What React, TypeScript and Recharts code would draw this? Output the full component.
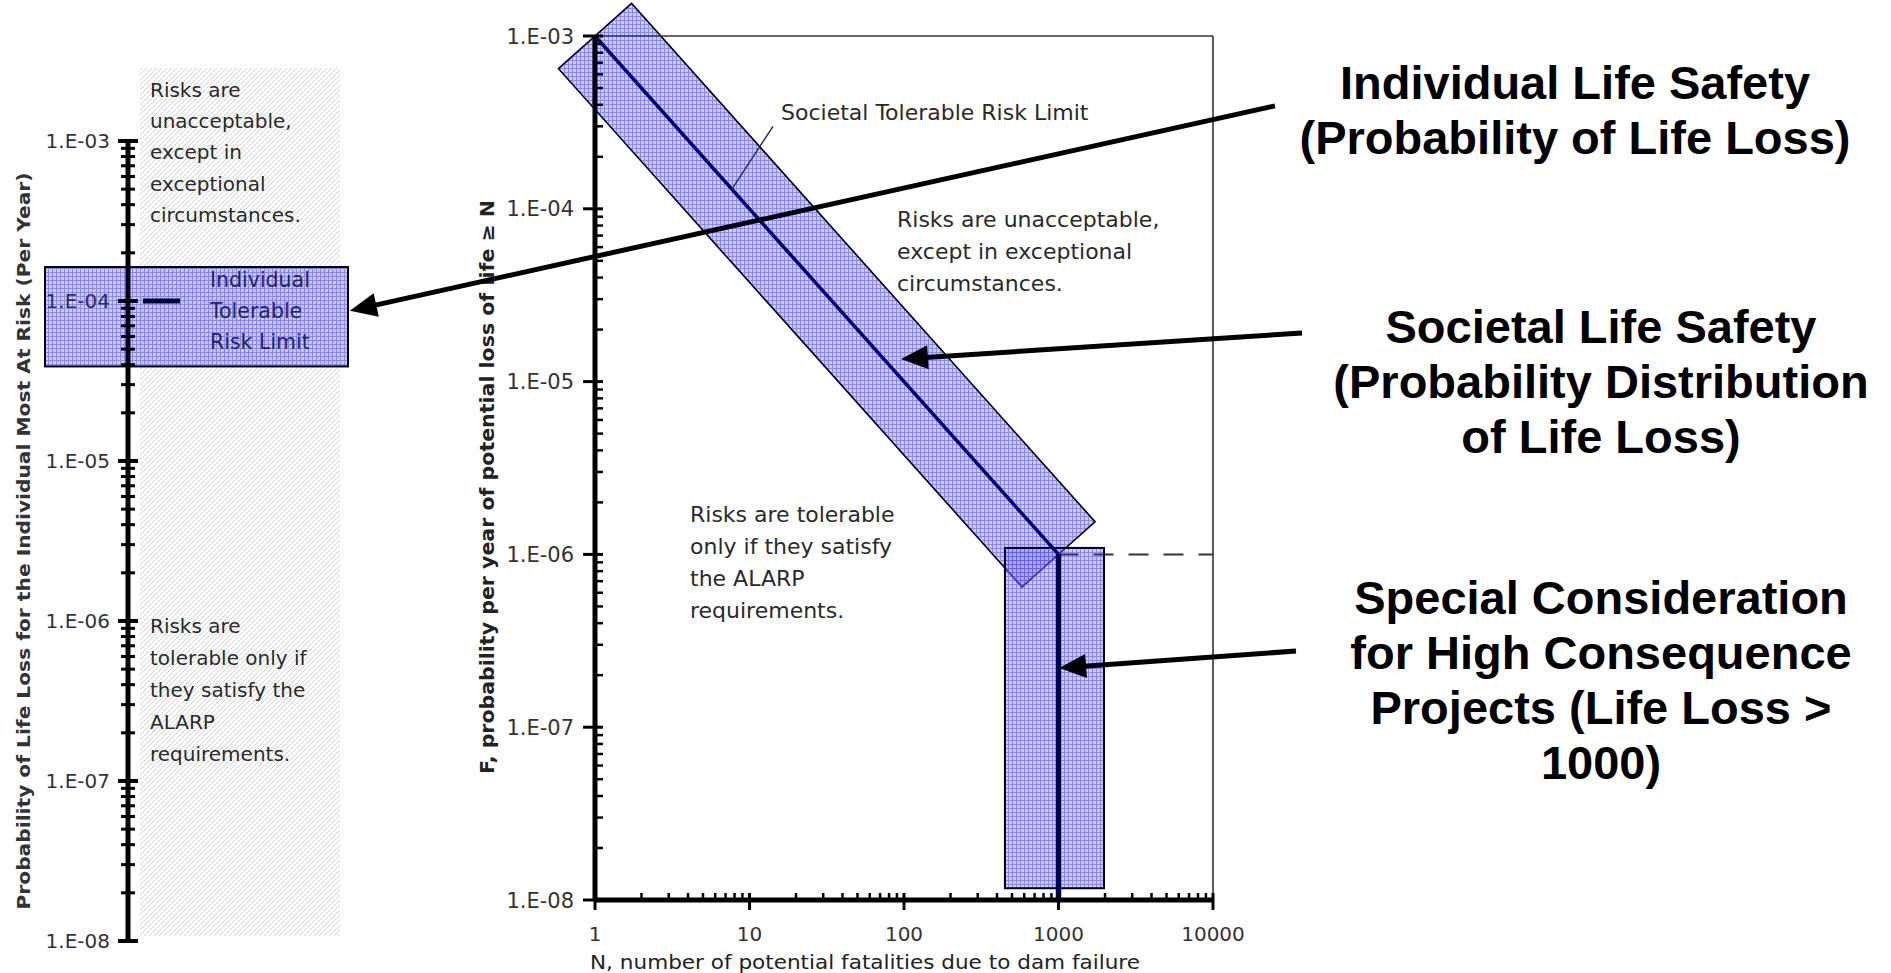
import React from 'react';
import { ComposedChart, XAxis, YAxis, Line, ReferenceArea, ReferenceLine } from 'recharts';

// ---------------- data ----------------
const X_MAJOR = [1, 10, 100, 1000, 10000];
const X_MAJOR_LABELS = ['1', '10', '100', '1000', '10000'];
const Y_MAJOR = [1e-8, 1e-7, 1e-6, 1e-5, 1e-4, 1e-3];
const Y_MAJOR_LABELS = ['1.E-08', '1.E-07', '1.E-06', '1.E-05', '1.E-04', '1.E-03'];
const MINOR_STEPS = [2, 3, 4, 5, 6, 7, 8, 9];

// Societal tolerable risk limit (F-N line)
const SOCIETAL_N = [1, 1000];
const SOCIETAL_F = [1e-3, 1e-6];
// High consequence (N = 1000) vertical limit
const HIGH_N = [1000, 1000];
const HIGH_F = [1e-6, 1e-8];
const HIGH_BAND_N = [450, 1970];
const HIGH_BAND_F = [1.17e-8, 1.09e-6];
// dashed extension at F = 1e-6
const EXT_N = [1000, 10000];
const EXT_F = [1e-6, 1e-6];
// Individual tolerable risk limit (left scale)
const INDIVIDUAL_LIMIT_F = 1e-4;
const INDIVIDUAL_BAND_F = [3.9e-5, 1.63e-4];
// leader line of the "Societal Tolerable Risk Limit" label
const LEADER_N = [7.7, 14.2];
const LEADER_F = [1.3e-4, 3.0e-4];
// callout arrows (tail, tip) in F-N coordinates
const ARROW_INDIV_N = [25180, 0.0259];
const ARROW_INDIV_F = [3.94e-4, 2.57e-5];
const ARROW_SOC_N = [37670, 95.6];
const ARROW_SOC_F = [1.91e-5, 1.35e-5];
const ARROW_HIGH_N = [34440, 1010];
const ARROW_HIGH_F = [2.76e-7, 2.2e-7];

// text content
const LEFT_TOP_LINES = ['Risks are', 'unacceptable,', 'except in', 'exceptional', 'circumstances.'];
const LEFT_BOTTOM_LINES = ['Risks are', 'tolerable only if', 'they satisfy the', 'ALARP', 'requirements.'];
const LEFT_BAND_LINES = ['Individual', 'Tolerable', 'Risk Limit'];
const MAIN_UNACC_LINES = ['Risks are unacceptable,', 'except in exceptional', 'circumstances.'];
const MAIN_TOL_LINES = ['Risks are tolerable', 'only if they satisfy', 'the ALARP', 'requirements.'];
const RIGHT_BLOCK_1 = ['Individual Life Safety', '(Probability of Life Loss)'];
const RIGHT_BLOCK_2 = ['Societal Life Safety', '(Probability Distribution', 'of Life Loss)'];
const RIGHT_BLOCK_3 = ['Special Consideration', 'for High Consequence', 'Projects (Life Loss >', '1000)'];

// ---------------- derived ----------------
const toPts = (ns: number[], fs: number[]) => ns.map((n, i) => ({ n, f: fs[i] }));
const societalData = toPts(SOCIETAL_N, SOCIETAL_F);
const highData = toPts(HIGH_N, HIGH_F);
const extData = toPts(EXT_N, EXT_F);
const seg = (ns: number[], fs: number[]) => ns.map((n, i) => ({ x: n, y: fs[i] }));
const leftAxisData = [{ x: 0 }, { x: 1 }];

const withMinors = (majors: number[]) =>
  [...majors, ...majors.slice(0, -1).flatMap((d) => MINOR_STEPS.map((m) => d * m))].sort((a, b) => a - b);
const X_TICKS_ALL = withMinors(X_MAJOR);
const Y_TICKS_ALL = withMinors(Y_MAJOR);
const majorIndex = (v: number, majors: number[]) => majors.findIndex((d) => Math.abs(v / d - 1) < 1e-6);

const SMALL_FONT = '"DejaVu Sans", Verdana, sans-serif';
const TEXT_COL = '#2a2a2a';

const Lines = ({ x, y, lines, size, pitch, fill = TEXT_COL }: any) => (
  <text x={x} y={y} fontFamily={SMALL_FONT} fontSize={size} fill={fill}>
    {lines.map((l: string, i: number) => (
      <tspan key={i} x={x} y={y + i * pitch}>
        {l}
      </tspan>
    ))}
  </text>
);

// ---------------- ticks ----------------
const MainYTick = (props: any) => {
  const { x, y, payload } = props;
  const mi = majorIndex(payload.value, Y_MAJOR);
  if (mi >= 0) {
    return (
      <g>
        <line x1={x - 12} x2={x + 8} y1={y} y2={y} stroke="#000" strokeWidth={3} />
        <text x={x - 21} y={y} dy="0.36em" textAnchor="end" fontFamily={SMALL_FONT} fontSize={21} fill="#333">
          {Y_MAJOR_LABELS[mi]}
        </text>
      </g>
    );
  }
  return <line x1={x} x2={x + 8} y1={y} y2={y} stroke="#000" strokeWidth={2.5} />;
};

const MainXTick = (props: any) => {
  const { x, y, payload } = props;
  const mi = majorIndex(payload.value, X_MAJOR);
  if (mi >= 0) {
    return (
      <g>
        <line x1={x} x2={x} y1={y - 7} y2={y + 10} stroke="#000" strokeWidth={3} />
        <text x={x} y={y + 41} textAnchor="middle" fontFamily={SMALL_FONT} fontSize={20} fill="#333">
          {X_MAJOR_LABELS[mi]}
        </text>
      </g>
    );
  }
  return <line x1={x} x2={x} y1={y - 7} y2={y} stroke="#000" strokeWidth={2.5} />;
};

const LeftYTick = (props: any) => {
  const { x, y, payload } = props;
  const mi = majorIndex(payload.value, Y_MAJOR);
  if (mi >= 0) {
    return (
      <g>
        <line x1={x - 10} x2={x + 10} y1={y} y2={y} stroke="#000" strokeWidth={4} />
        <text x={x - 18} y={y} dy="0.36em" textAnchor="end" fontFamily={SMALL_FONT} fontSize={20} fill="#333">
          {Y_MAJOR_LABELS[mi]}
        </text>
      </g>
    );
  }
  return <line x1={x - 7} x2={x + 7} y1={y} y2={y} stroke="#000" strokeWidth={3} />;
};

// ---------------- shapes ----------------
const SocietalBand = (p: any) => {
  const { x, y, width, height } = p;
  const L = Math.hypot(width, height);
  const nx = height / L;
  const ny = -width / L;
  const hw = 49;
  const pts = [
    [x + nx * hw, y + ny * hw],
    [x + width + nx * hw, y + height + ny * hw],
    [x + width - nx * hw, y + height - ny * hw],
    [x - nx * hw, y - ny * hw],
  ]
    .map((q) => q.join(','))
    .join(' ');
  return <polygon points={pts} fill="url(#bluegrid)" stroke="#000" strokeWidth={1.6} />;
};

const HighBand = (p: any) => (
  <rect x={p.x} y={p.y} width={p.width} height={p.height} fill="url(#bluegrid)" stroke="#000" strokeWidth={2} />
);

const MainAnnotations = () => (
  <g>
    <text x={781} y={120} fontFamily={SMALL_FONT} fontSize={22} fill={TEXT_COL}>
      Societal Tolerable Risk Limit
    </text>
    <Lines x={897} y={227} lines={MAIN_UNACC_LINES} size={22} pitch={32} />
    <Lines x={690} y={522} lines={MAIN_TOL_LINES} size={22} pitch={32} />
    <text
      transform="translate(487,487) rotate(-90)"
      x={0}
      y={0}
      textAnchor="middle"
      dominantBaseline="central"
      fontFamily={SMALL_FONT}
      fontWeight="bold"
      fontSize={19}
      fill="#222"
      textLength={574}
      lengthAdjust="spacingAndGlyphs"
    >
      F, probability per year of potential loss of life ≥ N
    </text>
    <text
      x={590}
      y={969}
      fontFamily={SMALL_FONT}
      fontSize={20}
      fill="#222"
      textLength={550}
      lengthAdjust="spacingAndGlyphs"
    >
      N, number of potential fatalities due to dam failure
    </text>
  </g>
);

const ArrowShape = (p: any) => {
  const { x1, y1, x2, y2 } = p;
  const dx = x2 - x1;
  const dy = y2 - y1;
  const L = Math.hypot(dx, dy) || 1;
  const ux = dx / L;
  const uy = dy / L;
  const hl = 27;
  const hw = 12;
  const bx = x2 - ux * hl;
  const by = y2 - uy * hl;
  return (
    <g>
      <line x1={x1} y1={y1} x2={bx + ux * 2} y2={by + uy * 2} stroke="#000" strokeWidth={5} />
      <polygon
        points={`${x2},${y2} ${bx - uy * hw},${by + ux * hw} ${bx + uy * hw},${by - ux * hw}`}
        fill="#000"
      />
    </g>
  );
};

const HatchShape = (p: any) => {
  const { x, y, width, height } = p;
  return (
    <g>
      <rect x={x + 12} y={y - 73} width={width - 12} height={height + 68} fill="url(#hatch)" />
      <Lines x={150} y={97} lines={LEFT_TOP_LINES} size={20} pitch={31.2} />
      <Lines x={150} y={633} lines={LEFT_BOTTOM_LINES} size={20} pitch={32} />
      <text
        transform="translate(23,541) rotate(-90)"
        x={0}
        y={0}
        textAnchor="middle"
        dominantBaseline="central"
        fontFamily={SMALL_FONT}
        fontWeight="bold"
        fontSize={18}
        fill="#333"
        textLength={737}
        lengthAdjust="spacingAndGlyphs"
      >
        Probability of Life Loss for the Individual Most At Risk (Per Year)
      </text>
    </g>
  );
};

const IndivBand = (p: any) => (
  <g>
    <rect
      x={p.x - 83}
      y={p.y}
      width={p.width + 91}
      height={p.height}
      fill="url(#bluegrid)"
      stroke="#000"
      strokeWidth={2}
    />
    <Lines x={210} y={287} lines={LEFT_BAND_LINES} size={20.5} pitch={31} fill="#26264e" />
  </g>
);

const DashShape = (p: any) => (
  <line x1={p.x1 + 15} x2={p.x1 + 52} y1={p.y1} y2={p.y1} stroke="#000033" strokeWidth={5} />
);

const bigStyle: React.CSSProperties = {
  position: 'absolute',
  width: 700,
  textAlign: 'center',
  fontFamily: '"Liberation Sans", Arial, sans-serif',
  fontWeight: 'bold',
  fontSize: 47,
  lineHeight: '55px',
  color: '#000',
  whiteSpace: 'nowrap',
};

const BigBlock = ({ cx, top, lines }: any) => (
  <div style={{ ...bigStyle, left: cx - 350, top }}>
    {lines.map((l: string, i: number) => (
      <div key={i}>{l}</div>
    ))}
  </div>
);

export default function App() {
  return (
    <div style={{ position: 'absolute', left: 0, top: 0, width: 1891, height: 973, background: '#fff', overflow: 'hidden' }}>
      <svg width={0} height={0} style={{ position: 'absolute' }}>
        <defs>
          <pattern id="bluegrid" width="4" height="4" patternUnits="userSpaceOnUse">
            <rect width="4" height="4" fill="rgba(120,120,255,0.38)" />
            <path d="M0,0.5 H4 M0.5,1 V4" stroke="rgba(70,70,235,0.5)" strokeWidth="1" />
          </pattern>
          <pattern id="hatch" width="5" height="5" patternUnits="userSpaceOnUse">
            <path d="M0,5 L5,0 M-1,1 L1,-1 M4,6 L6,4" stroke="#d2d2d2" strokeWidth="1" />
          </pattern>
        </defs>
      </svg>

      {/* Left: individual risk scale */}
      <div style={{ position: 'absolute', left: 0, top: 0 }}>
        <ComposedChart width={360} height={973} data={leftAxisData} margin={{ top: 141, right: 20, bottom: 32, left: 0 }}>
          <XAxis type="number" dataKey="x" domain={[0, 1]} allowDataOverflow hide />
          <ReferenceArea x1={0} x2={1} y1={1e-8} y2={1e-3} ifOverflow="visible" shape={HatchShape} />
          <YAxis
            type="number"
            scale="log"
            domain={[1e-8, 1e-3]}
            allowDataOverflow
            ticks={Y_TICKS_ALL}
            interval={0}
            width={128}
            tickSize={0}
            tickMargin={0}
            tickLine={false}
            axisLine={{ stroke: '#000', strokeWidth: 5 }}
            tick={LeftYTick}
          />
          <ReferenceLine y={INDIVIDUAL_LIMIT_F} ifOverflow="visible" shape={DashShape} />
          <ReferenceArea
            x1={0}
            x2={1}
            y1={INDIVIDUAL_BAND_F[0]}
            y2={INDIVIDUAL_BAND_F[1]}
            ifOverflow="visible"
            shape={IndivBand}
          />
        </ComposedChart>
      </div>

      {/* Main F-N chart */}
      <div style={{ position: 'absolute', left: 0, top: 0 }}>
        <ComposedChart width={1891} height={973} margin={{ top: 36, right: 678, bottom: 0, left: 475 }}>
          <XAxis
            dataKey="n"
            type="number"
            scale="log"
            domain={[1, 10000]}
            allowDataOverflow
            ticks={X_TICKS_ALL}
            interval={0}
            height={73}
            tickSize={0}
            tickMargin={0}
            tickLine={false}
            axisLine={{ stroke: '#000', strokeWidth: 5 }}
            tick={MainXTick}
          />
          <YAxis
            type="number"
            scale="log"
            domain={[1e-8, 1e-3]}
            allowDataOverflow
            ticks={Y_TICKS_ALL}
            interval={0}
            width={120}
            tickSize={0}
            tickMargin={0}
            tickLine={false}
            axisLine={{ stroke: '#000', strokeWidth: 5 }}
            tick={MainYTick}
          />
          <ReferenceLine y={1e-3} stroke="#333" strokeWidth={1.6} ifOverflow="visible" />
          <ReferenceLine x={10000} stroke="#333" strokeWidth={1.6} ifOverflow="visible" />
          <ReferenceArea x1={1} x2={10000} y1={1e-8} y2={1e-3} ifOverflow="visible" shape={MainAnnotations} />
          <ReferenceArea
            x1={SOCIETAL_N[0]}
            x2={SOCIETAL_N[1]}
            y1={SOCIETAL_F[1]}
            y2={SOCIETAL_F[0]}
            ifOverflow="visible"
            shape={SocietalBand}
          />
          <ReferenceArea
            x1={HIGH_BAND_N[0]}
            x2={HIGH_BAND_N[1]}
            y1={HIGH_BAND_F[0]}
            y2={HIGH_BAND_F[1]}
            ifOverflow="visible"
            shape={HighBand}
          />
          <Line data={extData} dataKey="f" stroke="#333" strokeWidth={2} strokeDasharray="20 15" dot={false} isAnimationActive={false} />
          <Line data={societalData} dataKey="f" stroke="#00006a" strokeWidth={3.5} dot={false} isAnimationActive={false} />
          <Line data={highData} dataKey="f" stroke="#000050" strokeWidth={5.5} dot={false} isAnimationActive={false} />
          <ReferenceLine segment={seg(LEADER_N, LEADER_F)} stroke="#333" strokeWidth={1.5} ifOverflow="visible" />
          <ReferenceLine segment={seg(ARROW_INDIV_N, ARROW_INDIV_F)} ifOverflow="visible" shape={ArrowShape} />
          <ReferenceLine segment={seg(ARROW_SOC_N, ARROW_SOC_F)} ifOverflow="visible" shape={ArrowShape} />
          <ReferenceLine segment={seg(ARROW_HIGH_N, ARROW_HIGH_F)} ifOverflow="visible" shape={ArrowShape} />
        </ComposedChart>
      </div>

      <BigBlock cx={1575} top={55} lines={RIGHT_BLOCK_1} />
      <BigBlock cx={1601} top={299} lines={RIGHT_BLOCK_2} />
      <BigBlock cx={1601} top={570} lines={RIGHT_BLOCK_3} />
    </div>
  );
}
